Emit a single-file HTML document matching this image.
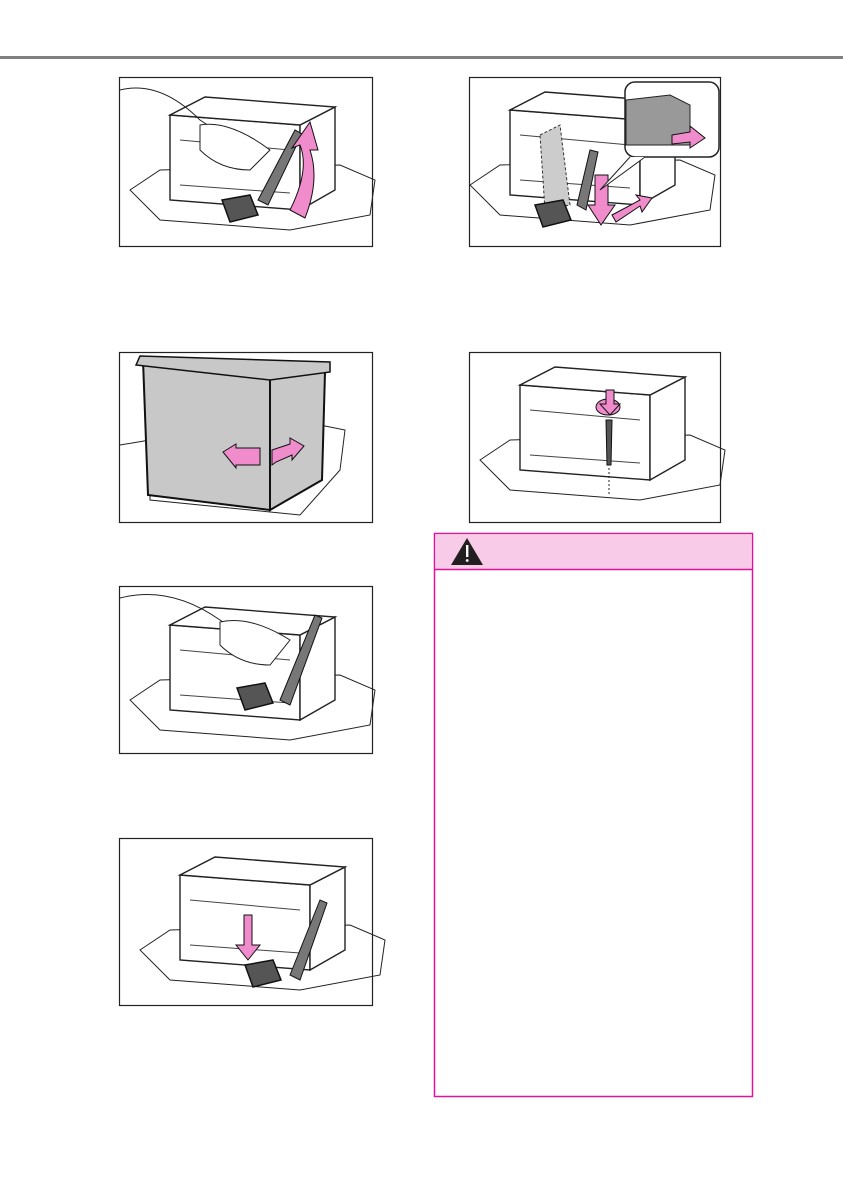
<!DOCTYPE html>
<html><head><meta charset="utf-8"><style>
html,body{margin:0;padding:0;background:#fff;}
body{width:843px;height:1192px;overflow:hidden;position:relative;font-family:"Liberation Sans",sans-serif;}
svg{position:absolute;left:0;top:0;}
</style></head><body>
<svg width="843" height="1192" viewBox="0 0 843 1192" xmlns="http://www.w3.org/2000/svg">
<defs>
<g id="bat">
 <!-- tray -->
 <path d="M-10 95 L20 75 L200 70 L235 85 L230 120 L150 135 L20 125 Z" fill="none" stroke="#222" stroke-width="1"/>
 <!-- battery body -->
 <path d="M30 20 L160 30 L160 115 L30 105 Z" fill="#fff" stroke="#222" stroke-width="1.4"/>
 <path d="M160 30 L195 12 L195 95 L160 115 Z" fill="#fff" stroke="#222" stroke-width="1.4"/>
 <path d="M30 20 L65 2 L195 12 L160 30 Z" fill="#fff" stroke="#222" stroke-width="1.4"/>
 <path d="M40 45 L150 55 M40 90 L150 98" stroke="#444" stroke-width="1" fill="none"/>
</g>
<g id="clamp">
 <path d="M0 0 L28 -5 L36 15 L8 22 Z" fill="#555" stroke="#111" stroke-width="1.5"/>
</g>
</defs>

<rect x="0" y="56" width="843" height="3" fill="#808080"/>

<!-- panel 1 -->
<rect x="119.5" y="77.5" width="253" height="169" fill="#fff" stroke="#222" stroke-width="1.2"/>
<g transform="translate(140,95)"><use href="#bat"/></g>
<path d="M120 90 Q160 80 200 120 Q230 140 250 150" stroke="#222" fill="none"/>
<path d="M200 125 Q230 120 270 150 L250 170 Q220 170 200 150 Z" fill="#fff" stroke="#222"/>
<g transform="translate(222,200)"><use href="#clamp"/></g>
<path d="M258 200 L295 130 L302 134 L268 205 Z" fill="#777" stroke="#111"/>
<path d="M290 210 Q310 170 300 145 L292 148 L310 122 L318 150 L310 150 Q320 180 305 218 Z" fill="#f08ccc" stroke="#111"/>

<!-- panel 2 -->
<rect x="469.5" y="77.5" width="251" height="169" fill="#fff" stroke="#222" stroke-width="1.2"/>
<g transform="translate(480,90)"><use href="#bat"/></g>
<path d="M540 135 L560 125 L570 205 L545 210 Z" fill="#ccc" stroke="#333" stroke-dasharray="3,2"/>
<g transform="translate(535,205)"><use href="#clamp"/></g>
<path d="M577 205 L590 150 L598 152 L586 210 Z" fill="#777" stroke="#111"/>
<path d="M595 205 L595 175 L608 175 L608 205 L615 205 L601 225 L588 205 Z" fill="#f08ccc" stroke="#111"/>
<path d="M612 215 L640 200 L636 195 L652 198 L642 212 L640 206 L616 222 Z" fill="#f08ccc" stroke="#111"/>
<rect x="625" y="82" width="94" height="75" rx="10" fill="#fff" stroke="#222" stroke-width="1.5"/>
<path d="M626 100 L670 95 L690 105 L690 145 L626 145 Z" fill="#999" stroke="#222"/>
<path d="M672 135 L690 132 L690 126 L705 138 L690 148 L690 142 L672 144 Z" fill="#f08ccc" stroke="#111"/>
<path d="M630 157 L600 190 L645 157" fill="#fff" stroke="#222"/>

<!-- panel 3 -->
<rect x="119.5" y="352.5" width="253" height="170" fill="#fff" stroke="#222" stroke-width="1.2"/>
<path d="M120 445 L150 440 L150 500 L300 515 L340 470 L345 430 L320 425" fill="none" stroke="#222"/>
<path d="M143 360 L270 372 L270 510 L148 495 Z" fill="#c8c8c8" stroke="#111" stroke-width="2"/>
<path d="M270 372 L325 372 L322 480 L270 510 Z" fill="#c8c8c8" stroke="#111" stroke-width="2"/>
<path d="M136 365 L140 356 L330 362 L330 372 L270 380 Z" fill="#c8c8c8" stroke="#111" stroke-width="1.5"/>
<path d="M223 452 L236 444 L236 448 L260 448 L260 465 L236 465 L236 468 Z" fill="#f08ccc" stroke="#111"/>
<path d="M272 465 L272 450 L290 444 L290 438 L304 446 L292 460 L292 455 L276 462 Z" fill="#f08ccc" stroke="#111"/>

<!-- panel 4 -->
<rect x="469.5" y="352.5" width="251" height="170" fill="#fff" stroke="#222" stroke-width="1.2"/>
<g transform="translate(490,365)"><use href="#bat"/></g>
<ellipse cx="608" cy="407" rx="12" ry="8" fill="#f08ccc" stroke="#111"/>
<path d="M606 390 L614 390 L614 404 L620 404 L610 415 L600 404 L606 404 Z" fill="#f08ccc" stroke="#111"/>
<path d="M606 420 L612 420 L611 465 L607 465 Z" fill="#555" stroke="#111"/>
<path d="M609 468 L609 495" stroke="#222" stroke-dasharray="2,2"/>

<!-- panel 5 -->
<rect x="119.5" y="586.5" width="253" height="167" fill="#fff" stroke="#222" stroke-width="1.2"/>
<g transform="translate(140,605)"><use href="#bat"/></g>
<path d="M120 598 Q170 585 220 620 Q240 635 260 645" stroke="#222" fill="none"/>
<path d="M220 622 Q250 615 290 640 L270 665 Q240 665 220 645 Z" fill="#fff" stroke="#222"/>
<g transform="translate(237,688)"><use href="#clamp"/></g>
<path d="M280 700 L315 615 L322 618 L290 705 Z" fill="#777" stroke="#111"/>

<!-- panel 6 -->
<rect x="119.5" y="838.5" width="253" height="167" fill="#fff" stroke="#222" stroke-width="1.2"/>
<g transform="translate(150,855)"><use href="#bat"/></g>
<path d="M244 915 L252 915 L252 945 L260 945 L248 960 L236 945 L244 945 Z" fill="#f08ccc" stroke="#111"/>
<g transform="translate(245,965)"><use href="#clamp"/></g>
<path d="M290 975 L320 900 L327 903 L300 980 Z" fill="#777" stroke="#111"/>

<!-- warning box -->
<rect x="434.5" y="533.5" width="318" height="563" fill="#fff" stroke="#e0119b" stroke-width="1.5"/>
<rect x="435.2" y="534.2" width="316.6" height="35" fill="#f8cce8"/>
<line x1="434.5" y1="569.5" x2="752.5" y2="569.5" stroke="#e0119b" stroke-width="1.5"/>
<path d="M467 538 L483 565 L451 565 Z" fill="#231f20"/>
<rect x="466" y="545" width="2.4" height="12" fill="#fff"/>
<circle cx="467.2" cy="560.5" r="1.4" fill="#fff"/>
</svg>
</body></html>
